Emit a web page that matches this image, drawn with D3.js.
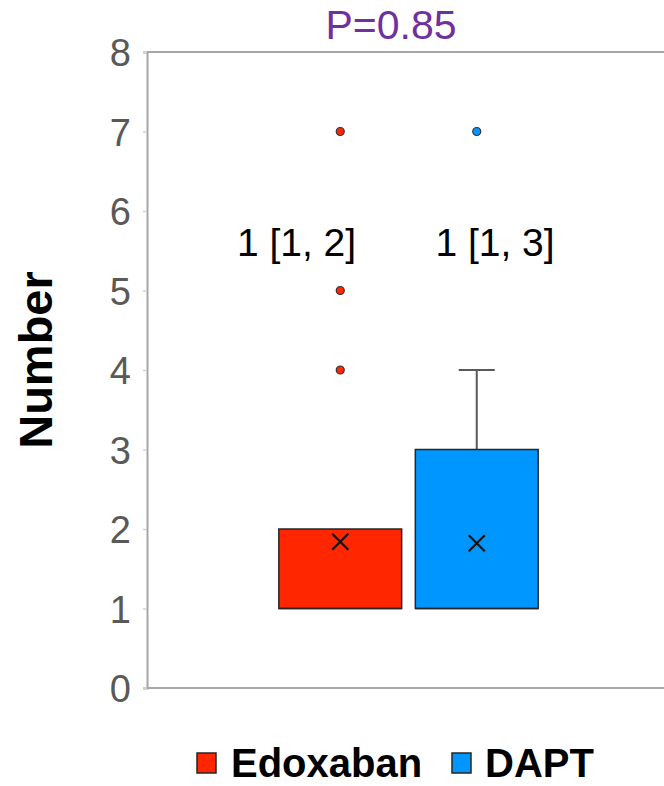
<!DOCTYPE html>
<html><head><meta charset="utf-8">
<script src="https://cdn.jsdelivr.net/npm/d3@7"></script>
<style>body{margin:0;background:#fff}svg{display:block}</style>
</head><body>
<script>
const groups = ["Edoxaban", "DAPT"];
const colors = ["#FF2600", "#0096FF"];
const q1 = [1, 1];
const medians = [1, 1];
const q3 = [2, 3];
const whiskerLow = [1, 1];
const whiskerHigh = [2, 4];
const means = [1.84, 1.82];
const outliers = [[4, 5, 7], [7]];
const summaryLabels = ["1 [1, 2]", "1 [1, 3]"];
const yTicks = [0, 1, 2, 3, 4, 5, 6, 7, 8];
const pLabel = "P=0.85";
const yTitle = "Number";

const W = 664, H = 786;
const svg = d3.select("body").append("svg").attr("width", W).attr("height", H);
const font = "Arial, 'Liberation Sans', sans-serif";

const y = d3.scaleLinear().domain([0, 8]).range([688, 52]);
const x = d3.scaleBand().domain(groups).range([272, 545]).paddingInner(0.1).paddingOuter(0.05);
const axisX = 147;

// top line at max
svg.append("line").attr("x1", axisX).attr("x2", W).attr("y1", y(8)).attr("y2", y(8))
  .attr("stroke", "#a6a6a6").attr("stroke-width", 2);
// bottom axis
svg.append("line").attr("x1", axisX).attr("x2", W).attr("y1", y(0)).attr("y2", y(0))
  .attr("stroke", "#a6a6a6").attr("stroke-width", 2);

// y axis
const yAxis = d3.axisLeft(y).tickValues(yTicks).tickSize(4).tickPadding(12);
const gy = svg.append("g").attr("transform", `translate(${axisX},0)`).call(yAxis);
gy.select(".domain").attr("stroke", "#a6a6a6").attr("stroke-width", 2);
gy.selectAll(".tick line").attr("stroke", "#d0d0d0").attr("stroke-width", 1.5);
gy.selectAll(".tick text").attr("fill", "#595959").attr("font-size", 38).attr("font-family", font)
  .attr("dy", "0.36em");

// boxes
groups.forEach((g, i) => {
  const x0 = x(g), bw = x.bandwidth(), cx = x0 + bw / 2;
  // whisker
  if (whiskerHigh[i] > q3[i]) {
    svg.append("line").attr("x1", cx).attr("x2", cx).attr("y1", y(q3[i])).attr("y2", y(whiskerHigh[i]))
      .attr("stroke", "#595959").attr("stroke-width", 2);
    svg.append("line").attr("x1", cx - 18).attr("x2", cx + 18).attr("y1", y(whiskerHigh[i])).attr("y2", y(whiskerHigh[i]))
      .attr("stroke", "#595959").attr("stroke-width", 2);
  }
  svg.append("rect").attr("x", x0).attr("y", y(q3[i])).attr("width", bw).attr("height", y(q1[i]) - y(q3[i]))
    .attr("fill", colors[i]).attr("stroke", "#262626").attr("stroke-width", 1.5);
  // median line
  svg.append("line").attr("x1", x0).attr("x2", x0 + bw).attr("y1", y(medians[i])).attr("y2", y(medians[i]))
    .attr("stroke", "#262626").attr("stroke-width", 1.5);
  // mean x
  const my = y(means[i]), s = 8;
  svg.append("path").attr("d", `M${cx - s},${my - s}L${cx + s},${my + s}M${cx - s},${my + s}L${cx + s},${my - s}`)
    .attr("stroke", "#111").attr("stroke-width", 2.2).attr("fill", "none");
  // outliers
  outliers[i].forEach(v => {
    svg.append("circle").attr("cx", cx).attr("cy", y(v)).attr("r", 4)
      .attr("fill", colors[i]).attr("stroke", "#333").attr("stroke-width", 1.2);
  });
});

// summary labels
const labelX = [296.5, 495];
summaryLabels.forEach((t, i) => {
  svg.append("text").attr("x", labelX[i]).attr("y", 256).attr("text-anchor", "middle")
    .attr("font-family", font).attr("font-size", 39).attr("fill", "#000").text(t);
});

// P label
svg.append("text").attr("x", 391).attr("y", 39).attr("text-anchor", "middle")
  .attr("font-family", font).attr("font-size", 41).attr("fill", "#7030A0").text(pLabel);

// y title
svg.append("text").attr("transform", "translate(52,360) rotate(-90)").attr("text-anchor", "middle")
  .attr("font-family", font).attr("font-size", 47).attr("font-weight", "bold").attr("fill", "#000").text(yTitle);

// legend
const legend = [{x: 197, tx: 231}, {x: 452, tx: 485}];
groups.forEach((g, i) => {
  svg.append("rect").attr("x", legend[i].x).attr("y", 753).attr("width", 19).attr("height", 20)
    .attr("fill", colors[i]).attr("stroke", "#262626").attr("stroke-width", 1.5);
  svg.append("text").attr("x", legend[i].tx).attr("y", 777).attr("font-family", font).attr("font-size", 40)
    .attr("font-weight", "bold").attr("fill", "#000").text(g);
});
</script>
</body></html>
